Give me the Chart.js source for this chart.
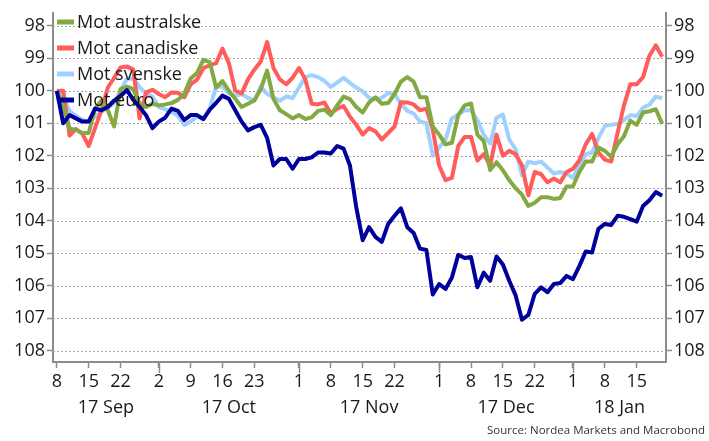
<!DOCTYPE html>
<html>
<head>
<meta charset="utf-8">
<script src="https://cdn.jsdelivr.net/npm/chart.js@4.4.0/dist/chart.umd.min.js"></script>
<style>
  html, body { margin: 0; padding: 0; background: #fff; }
  #wrap { width: 709px; height: 441px; }
</style>
</head>
<body>
<div id="wrap"><canvas id="c" width="709" height="441"></canvas></div>
<script>
// business days, Sep 8 2017 - Jan 19 2018
const dates = [
  "2017-09-08","2017-09-11","2017-09-12","2017-09-13","2017-09-14","2017-09-15","2017-09-18","2017-09-19",
  "2017-09-20","2017-09-21","2017-09-22","2017-09-25","2017-09-26","2017-09-27","2017-09-28","2017-09-29",
  "2017-10-02","2017-10-03","2017-10-04","2017-10-05","2017-10-06","2017-10-09","2017-10-10","2017-10-11",
  "2017-10-12","2017-10-13","2017-10-16","2017-10-17","2017-10-18","2017-10-19","2017-10-20","2017-10-23",
  "2017-10-24","2017-10-25","2017-10-26","2017-10-27","2017-10-30","2017-10-31","2017-11-01","2017-11-02",
  "2017-11-03","2017-11-06","2017-11-07","2017-11-08","2017-11-09","2017-11-10","2017-11-13","2017-11-14",
  "2017-11-15","2017-11-16","2017-11-17","2017-11-20","2017-11-21","2017-11-22","2017-11-23","2017-11-24",
  "2017-11-27","2017-11-28","2017-11-29","2017-11-30","2017-12-01","2017-12-04","2017-12-05","2017-12-06",
  "2017-12-07","2017-12-08","2017-12-11","2017-12-12","2017-12-13","2017-12-14","2017-12-15","2017-12-18",
  "2017-12-19","2017-12-20","2017-12-21","2017-12-22","2017-12-25","2017-12-26","2017-12-27","2017-12-28",
  "2017-12-29","2018-01-01","2018-01-02","2018-01-03","2018-01-04","2018-01-05","2018-01-08","2018-01-09",
  "2018-01-10","2018-01-11","2018-01-12","2018-01-15","2018-01-16","2018-01-17","2018-01-18","2018-01-19"
];

const australske = [
  100.0,100.47,101.17,101.2,101.3,101.3,100.55,100.3,100.6,101.1,
  99.95,99.87,99.95,100.4,100.5,100.4,100.45,100.42,100.38,100.28,
  100.1,99.62,99.45,99.05,99.12,99.9,99.7,100.0,100.25,100.5,
  100.4,100.3,99.95,99.38,100.25,100.6,100.72,100.85,100.75,100.87,
  100.82,100.62,100.58,100.75,100.45,100.18,100.26,100.5,100.67,100.36,
  100.2,100.4,100.38,100.1,99.72,99.58,99.72,100.2,100.2,101.1,
  101.35,101.65,101.6,100.75,100.45,100.39,101.35,101.55,102.44,102.2,
  102.45,102.75,103.0,103.2,103.55,103.45,103.28,103.28,103.33,103.3,
  102.95,102.94,102.5,102.18,102.18,101.75,101.85,102.03,101.65,101.4,
  100.92,101.05,100.67,100.63,100.57,101.02
];
const canadiske = [
  100.0,100.0,101.38,101.18,101.32,101.7,101.15,100.6,99.9,99.6,
  99.28,99.25,99.35,100.85,100.05,99.97,100.1,100.2,100.05,100.06,
  100.2,99.8,99.66,99.3,99.22,99.15,98.7,99.15,100.0,100.08,
  99.65,99.35,99.1,98.5,99.3,99.65,99.8,99.6,99.3,99.65,
  100.4,100.42,100.36,100.7,100.55,100.47,100.8,101.05,101.35,101.15,
  101.25,101.5,101.3,101.1,100.35,100.36,100.42,100.6,100.55,101.2,
  102.3,102.75,102.68,101.7,101.42,101.42,102.15,101.95,102.3,101.35,
  102.0,101.85,101.95,102.3,103.22,102.5,102.57,102.82,102.7,102.82,
  102.5,102.4,102.15,101.65,101.33,101.9,102.12,102.18,101.3,100.45,
  99.8,99.8,99.58,98.92,98.6,98.95
];
const svenske = [
  100.0,100.2,100.62,100.77,100.9,100.95,100.8,100.65,100.52,100.38,
  100.0,99.63,99.62,99.9,100.08,100.18,100.5,100.57,100.65,100.77,
  101.05,100.95,100.8,100.88,100.55,99.86,99.88,100.08,100.16,100.1,
  100.22,100.3,99.87,100.1,100.2,100.31,100.17,100.23,99.9,99.58,
  99.52,99.58,99.7,99.88,99.75,99.6,99.76,99.9,100.02,100.22,
  100.26,100.22,100.07,100.1,100.4,100.62,100.7,100.95,101.0,102.0,
  101.75,101.5,100.85,100.73,100.6,100.6,100.9,101.35,101.63,100.83,
  100.73,101.5,101.8,102.6,102.18,102.23,102.18,102.36,102.55,102.5,
  102.55,102.68,102.3,101.95,101.9,101.45,101.08,101.05,101.02,100.9,
  100.75,100.78,100.52,100.43,100.18,100.23
];
const euro = [
  100.0,101.0,100.75,100.85,100.95,100.95,100.55,100.6,100.5,100.3,
  100.16,99.98,100.28,100.5,100.75,101.15,100.95,100.83,100.55,100.62,
  100.9,100.75,100.75,100.87,100.58,100.37,100.15,100.25,100.6,100.95,
  101.22,101.12,101.05,101.45,102.3,102.1,102.1,102.4,102.1,102.1,
  102.05,101.9,101.9,101.93,101.7,101.78,102.3,103.6,104.6,104.2,
  104.5,104.65,104.1,103.85,103.62,104.2,104.38,104.86,104.9,106.27,
  105.95,106.1,105.75,105.05,105.15,105.12,106.05,105.6,105.85,105.1,
  105.35,105.85,106.3,107.05,106.9,106.25,106.05,106.2,105.95,105.92,
  105.7,105.8,105.4,104.95,104.98,104.25,104.1,104.13,103.85,103.88,
  103.95,104.03,103.55,103.37,103.12,103.23
];

const seriesNames = ["Mot australske", "Mot canadiske", "Mot svenske", "Mot euro"];
const seriesColors = ["#84a942", "#ff5c5c", "#9fd0ff", "#00009a"];
const seriesOrder = [1, 2, 3, 0]; // euro on top

const tickDates = [
  "2017-09-08","2017-09-15","2017-09-22","2017-10-02","2017-10-09","2017-10-16","2017-10-23",
  "2017-11-01","2017-11-08","2017-11-15","2017-11-22","2017-12-01","2017-12-08","2017-12-15","2017-12-22",
  "2018-01-01","2018-01-08","2018-01-15"
];
const monthLabels = ["17 Sep", "17 Oct", "17 Nov", "17 Dec", "18 Jan"];
const yTicks = [98, 99, 100, 101, 102, 103, 104, 105, 106, 107, 108];

const tickIdx = tickDates.map(d => dates.indexOf(d));
const monthStarts = [];
dates.forEach((d, i) => { if (i > 0 && d.slice(5, 7) !== dates[i - 1].slice(5, 7)) monthStarts.push(i); });

const FONT = "'Open Sans', 'Noto Sans', sans-serif";
const AXIS = "#8c8c8c";
const TXT = "#1a1a1a";
const X_MIN = -0.6, X_MAX = dates.length - 1 + 0.6;

const datasets = [australske, canadiske, svenske, euro].map((arr, k) => ({
  label: seriesNames[k],
  data: arr.map((v, i) => ({ x: i, y: v })),
  borderColor: seriesColors[k],
  backgroundColor: seriesColors[k],
  borderWidth: 4,
  borderJoinStyle: "round",
  pointRadius: 0,
  tension: 0,
  order: seriesOrder[k]
}));

// dotted horizontal grid
const dotGrid = {
  id: "dotGrid",
  beforeDatasetsDraw(chart) {
    const { ctx, chartArea: a, scales } = chart;
    ctx.save();
    ctx.strokeStyle = "#a8a8a8";
    ctx.lineWidth = 1;
    ctx.setLineDash([2, 2]);
    yTicks.forEach(v => {
      const y = Math.round(scales.y.getPixelForValue(v)) + 0.5;
      ctx.beginPath(); ctx.moveTo(a.left, y); ctx.lineTo(a.right, y); ctx.stroke();
    });
    ctx.restore();
  }
};

// legend inside plot, top-left
const innerLegend = {
  id: "innerLegend",
  afterDatasetsDraw(chart) {
    const { ctx } = chart;
    ctx.save();
    ctx.font = "18px " + FONT;
    ctx.textBaseline = "middle";
    ctx.fillStyle = TXT;
    seriesNames.forEach((name, k) => {
      const y = 22 + k * 26;
      ctx.strokeStyle = seriesColors[k];
      ctx.lineWidth = 5;
      ctx.beginPath(); ctx.moveTo(57, y); ctx.lineTo(74, y); ctx.stroke();
      ctx.fillText(name, 77, y + 1);
    });
    ctx.restore();
  }
};

// long month ticks, month labels and source
const extras = {
  id: "extras",
  afterDraw(chart) {
    const { ctx, chartArea: a, scales } = chart;
    const x = scales.x;
    ctx.save();
    ctx.strokeStyle = AXIS;
    ctx.lineWidth = 1.5;
    monthStarts.forEach(i => {
      const px = Math.round(x.getPixelForValue(i)) + 0.5;
      ctx.beginPath(); ctx.moveTo(px, a.bottom); ctx.lineTo(px, a.bottom + 11); ctx.stroke();
    });
    ctx.font = "18px " + FONT;
    ctx.fillStyle = TXT;
    ctx.textAlign = "center";
    ctx.textBaseline = "middle";
    const bounds = [X_MIN].concat(monthStarts, [X_MAX]);
    monthLabels.forEach((m, k) => {
      const mid = (bounds[k] + bounds[k + 1]) / 2;
      ctx.fillText(m, x.getPixelForValue(mid), 408);
    });
    ctx.font = "11.5px " + FONT;
    ctx.fillStyle = "#333";
    ctx.textAlign = "right";
    ctx.fillText("Source: Nordea Markets and Macrobond", 705, 431);
    ctx.restore();
  }
};

const yAxis = (pos, width) => ({
  type: "linear",
  position: pos,
  reverse: true,
  min: 97.6,
  max: 108.35,
  afterBuildTicks: s => { s.ticks = yTicks.map(v => ({ value: v })); },
  afterFit: s => { s.width = width; },
  grid: { drawOnChartArea: false, drawTicks: true, tickLength: 6, tickColor: AXIS, tickWidth: 1.5 },
  border: { display: true, color: AXIS, width: 2 },
  ticks: { font: { family: FONT, size: 18 }, color: TXT, padding: 2 }
});

new Chart(document.getElementById("c"), {
  type: "line",
  data: { datasets },
  options: {
    responsive: false,
    devicePixelRatio: 1,
    animation: false,
    layout: { padding: { top: 7, left: 0, right: 0, bottom: 0 } },
    plugins: { legend: { display: false }, tooltip: { enabled: false } },
    scales: {
      x: {
        type: "linear",
        min: X_MIN,
        max: X_MAX,
        afterBuildTicks: s => { s.ticks = tickIdx.map(v => ({ value: v })); },
        afterFit: s => { s.height = 79; },
        grid: { drawOnChartArea: false, drawTicks: true, tickLength: 6, tickColor: AXIS, tickWidth: 1.5 },
        border: { display: true, color: AXIS, width: 2 },
        ticks: {
          autoSkip: false, maxRotation: 0, padding: 3,
          font: { family: FONT, size: 18 }, color: TXT,
          callback: v => String(parseInt(dates[v].slice(8, 10), 10))
        }
      },
      y: yAxis("left", 53),
      y2: yAxis("right", 43)
    }
  },
  plugins: [dotGrid, innerLegend, extras]
});
</script>
</body>
</html>
